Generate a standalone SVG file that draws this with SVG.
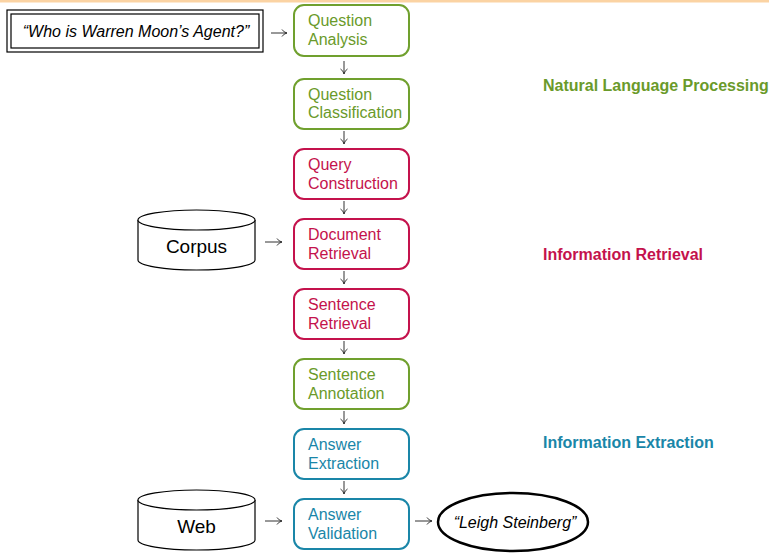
<svg xmlns="http://www.w3.org/2000/svg" width="769" height="556" viewBox="0 0 769 556">
<style>
text{font-family:"Liberation Sans",Arial,sans-serif;}
.box{fill:#fff;stroke-width:2;}
.g{stroke:#70a02e;} .gt{fill:#6a9a2a;}
.r{stroke:#c4124c;} .rt{fill:#c4124c;}
.b{stroke:#1a86a8;} .bt{fill:#1a86a8;}
.lbl{font-size:16px;}
.side{font-size:16px;font-weight:bold;}
.conn path{fill:none;stroke:#333;stroke-width:1;}
.cyl{fill:#fff;stroke:#000;stroke-width:1.2;}
</style>
<defs>
<marker id="ah" markerWidth="8" markerHeight="8" refX="6" refY="4" orient="auto" markerUnits="userSpaceOnUse">
<path d="M1,0.5 Q3,3.5 6,4 Q3,4.5 1,7.5" fill="none" stroke="#333" stroke-width="1"/>
</marker>
</defs>
<rect x="0" y="0" width="769" height="2.5" fill="#fbd3a3"/>

<g id="input">
<rect x="7" y="10" width="256" height="42" fill="#fff" stroke="#000" stroke-width="1.2"/>
<rect x="11" y="14" width="248" height="34" fill="none" stroke="#000" stroke-width="1.2"/>
<text x="136" y="37" text-anchor="middle" font-size="16" font-style="italic">“Who is Warren Moon’s Agent?”</text>
</g>

<g id="corpus">
<path class="cyl" d="M138,220 L138,260 A58.5,10 0 0 0 255,260 L255,220"/>
<ellipse class="cyl" cx="196.5" cy="220" rx="58.5" ry="10"/>
<text x="196.5" y="253" text-anchor="middle" font-size="19">Corpus</text>
</g>

<g id="web">
<path class="cyl" d="M138,500 L138,540 A58.5,10 0 0 0 255,540 L255,500"/>
<ellipse class="cyl" cx="196.5" cy="500" rx="58.5" ry="10"/>
<text x="196.5" y="533" text-anchor="middle" font-size="19">Web</text>
</g>

<g id="q-analysis"><rect class="box g" x="294" y="5" width="115" height="51" rx="10"/><text class="lbl gt" x="308" y="26">Question</text><text class="lbl gt" x="308" y="45">Analysis</text></g>
<g id="q-class"><rect class="box g" x="294" y="79" width="115" height="50" rx="10"/><text class="lbl gt" x="308" y="100">Question</text><text class="lbl gt" x="308" y="118">Classification</text></g>
<g id="query"><rect class="box r" x="294" y="149" width="115" height="50" rx="10"/><text class="lbl rt" x="308" y="170">Query</text><text class="lbl rt" x="308" y="189">Construction</text></g>
<g id="doc"><rect class="box r" x="294" y="219" width="115" height="50" rx="10"/><text class="lbl rt" x="308" y="240">Document</text><text class="lbl rt" x="308" y="259">Retrieval</text></g>
<g id="sent-ret"><rect class="box r" x="294" y="289" width="115" height="50" rx="10"/><text class="lbl rt" x="308" y="310">Sentence</text><text class="lbl rt" x="308" y="329">Retrieval</text></g>
<g id="sent-ann"><rect class="box g" x="294" y="359" width="115" height="50" rx="10"/><text class="lbl gt" x="308" y="380">Sentence</text><text class="lbl gt" x="308" y="399">Annotation</text></g>
<g id="ans-ext"><rect class="box b" x="294" y="429" width="115" height="50" rx="10"/><text class="lbl bt" x="308" y="450">Answer</text><text class="lbl bt" x="308" y="469">Extraction</text></g>
<g id="ans-val"><rect class="box b" x="294" y="499" width="115" height="50" rx="10"/><text class="lbl bt" x="308" y="520">Answer</text><text class="lbl bt" x="308" y="539">Validation</text></g>

<g id="output">
<ellipse cx="513" cy="522" rx="75" ry="29" fill="#fff" stroke="#000" stroke-width="2.5"/>
<text x="515" y="528" text-anchor="middle" font-size="16" font-style="italic">“Leigh Steinberg”</text>
</g>

<g id="labels">
<text class="side gt" x="543" y="91">Natural Language Processing</text>
<text class="side rt" x="543" y="260">Information Retrieval</text>
<text class="side bt" x="543" y="448">Information Extraction</text>
</g>

<g class="conn" id="connectors">
<path d="M271,33 H287" marker-end="url(#ah)"/>
<path d="M265,242 H282" marker-end="url(#ah)"/>
<path d="M265,521 H282" marker-end="url(#ah)"/>
<path d="M415,521 H432" marker-end="url(#ah)"/>
<path d="M344,61 V74" marker-end="url(#ah)"/>
<path d="M344,131 V144" marker-end="url(#ah)"/>
<path d="M344,201 V214" marker-end="url(#ah)"/>
<path d="M344,271 V284" marker-end="url(#ah)"/>
<path d="M344,341 V354" marker-end="url(#ah)"/>
<path d="M344,411 V424" marker-end="url(#ah)"/>
<path d="M344,481 V494" marker-end="url(#ah)"/>
</g>
</svg>
